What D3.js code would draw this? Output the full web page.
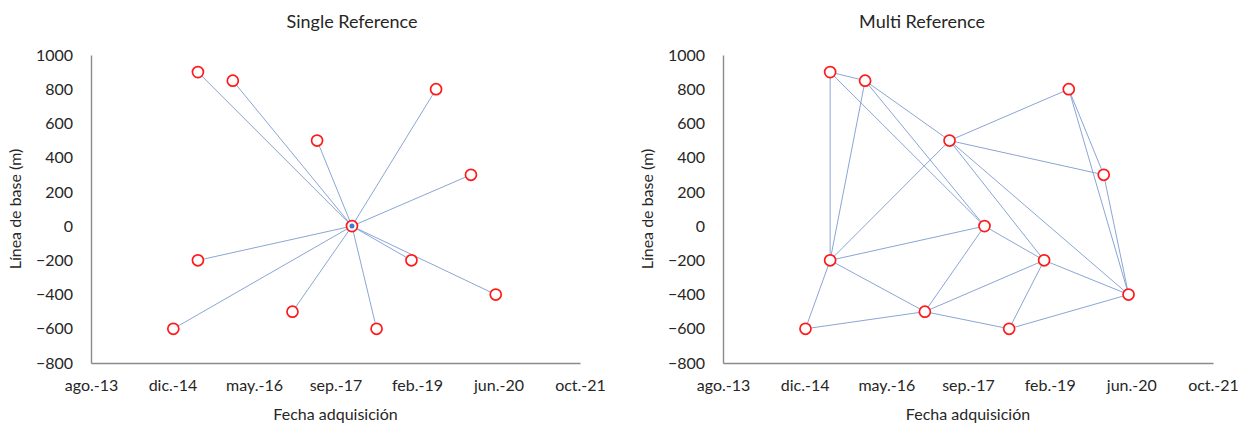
<!DOCTYPE html>
<html>
<head>
<meta charset="utf-8">
<script src="https://cdn.jsdelivr.net/npm/d3@7"></script>
<style>
  body { margin: 0; background: #fff; }
  svg { display: block; }
  text { font-family: Lato, "Open Sans", sans-serif; fill: #262626; }
</style>
</head>
<body>
<svg id="chart" width="1247" height="427"></svg>
<script>
// ---- data ----
const panelTitles = ["Single Reference", "Multi Reference"];
const xTickDates = ["2013-08-14", "2014-12-27", "2016-05-10", "2017-09-22", "2019-02-04", "2020-06-18", "2021-10-31"];
const xTickLabels = ["ago.-13", "dic.-14", "may.-16", "sep.-17", "feb.-19", "jun.-20", "oct.-21"];
const yTicks = [-800, -600, -400, -200, 0, 200, 400, 600, 800, 1000];
const acqDates = ["2015-01-01", "2015-06-01", "2015-06-01", "2016-01-01", "2017-01-01", "2017-06-01",
                  "2018-01-01", "2018-06-01", "2019-01-01", "2019-06-01", "2020-01-01", "2020-06-01"];
const baselines = [-600, 900, -200, 850, -500, 500, 0, -600, -200, 800, 300, -400];
const masterIndex = 6;
const multiPairs = [[1,3],[1,2],[3,2],[1,6],[3,6],[3,5],[5,9],[5,10],[5,2],[5,8],[5,11],
                    [9,10],[9,11],[10,11],[2,6],[2,4],[2,0],[0,4],[4,6],[4,8],[4,7],
                    [7,8],[7,11],[8,11],[6,8]];
const xTitle = "Fecha adquisición";
const yTitle = "Línea de base (m)";

// ---- drawing ----
const parse = d3.timeParse("%Y-%m-%d");
const points = acqDates.map((d, i) => ({ date: parse(d), b: baselines[i] }));
const singlePairs = points.map((p, i) => [i, masterIndex]).filter(p => p[0] !== masterIndex);

const svg = d3.select("#chart");
const FS = "16px";

function drawPanel(opts) {
  const { left, right, top, bottom, title, titleX, pairs, showMaster } = opts;
  const x = d3.scaleTime()
    .domain([parse(xTickDates[0]), parse(xTickDates[xTickDates.length - 1])])
    .range([left, right]);
  const y = d3.scaleLinear().domain([-800, 1000]).range([bottom, top]);
  const g = svg.append("g");

  // title
  g.append("text").attr("x", titleX).attr("y", 28)
    .attr("text-anchor", "middle").style("font-size", "18px").text(title);

  // axes
  const xAxis = d3.axisBottom(x)
    .tickValues(xTickDates.map(parse))
    .tickFormat((d, i) => xTickLabels[i])
    .tickSize(0).tickPadding(17);
  const gx = g.append("g").attr("transform", `translate(0,${bottom})`).call(xAxis);
  const yAxis = d3.axisLeft(y).tickValues(yTicks).tickFormat(d3.format("d")).tickSize(0).tickPadding(18);
  const gy = g.append("g").attr("transform", `translate(${left},0)`).call(yAxis);
  [gx, gy].forEach(a => {
    a.select(".domain").attr("stroke", "#8a8a8a").attr("stroke-width", 1.4);
    a.selectAll("text").style("font-size", FS).style("font-family", "Lato, 'Open Sans', sans-serif").attr("fill", "#262626");
  });

  // axis titles
  g.append("text").attr("x", (left + right) / 2).attr("y", 420)
    .attr("text-anchor", "middle").style("font-size", FS).text(xTitle);
  g.append("text")
    .attr("transform", `translate(${left - 70},${(top + bottom) / 2}) rotate(-90)`)
    .attr("text-anchor", "middle").style("font-size", FS).text(yTitle);

  // connections
  g.append("g").selectAll("line").data(pairs).join("line")
    .attr("x1", d => x(points[d[0]].date)).attr("y1", d => y(points[d[0]].b))
    .attr("x2", d => x(points[d[1]].date)).attr("y2", d => y(points[d[1]].b))
    .attr("stroke", "#7d9bd0").attr("stroke-width", 0.9);

  // markers
  g.append("g").selectAll("circle").data(points).join("circle")
    .attr("cx", d => x(d.date)).attr("cy", d => y(d.b)).attr("r", 5.5)
    .attr("fill", "#fff").attr("stroke", "#ff1a1a").attr("stroke-width", 1.7);

  if (showMaster) {
    const m = points[masterIndex];
    g.append("circle").attr("cx", x(m.date)).attr("cy", y(m.b)).attr("r", 2.5)
      .attr("fill", "#4a78c8");
  }
}

drawPanel({ left: 91, right: 580, top: 55, bottom: 363, title: panelTitles[0], titleX: 352, pairs: singlePairs, showMaster: true });
drawPanel({ left: 723, right: 1213, top: 55, bottom: 363, title: panelTitles[1], titleX: 922, pairs: multiPairs, showMaster: false });
</script>
</body>
</html>
